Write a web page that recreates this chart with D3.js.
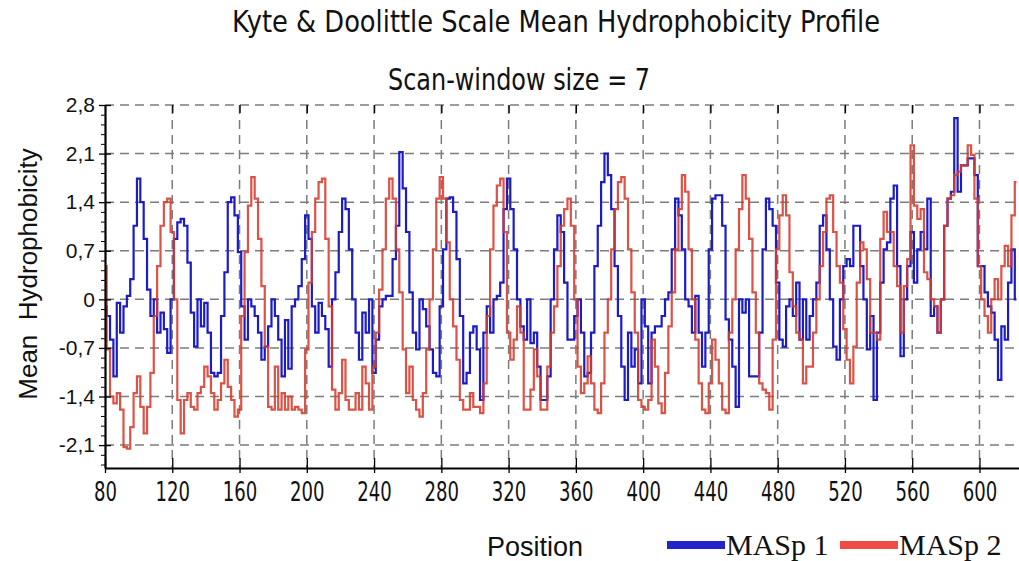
<!DOCTYPE html>
<html>
<head>
<meta charset="utf-8">
<script src="https://d3js.org/d3.v7.min.js"></script>
<style>
  body { margin: 0; background: #fff; }
  svg { display: block; }
</style>
</head>
<body>
<div id="chart"></div>
<script>
// hydrophobicity values, one every 2 residues from 80
const startPos = 80
const stepPos = 2
const masp1 = [
  -0.1, -0.24, -0.58, -1.11, -0.05, -0.48, -0.1, 0.05, 0.29, 1.06,
  1.74, 1.4, 0.87, 0.14, -0.24, 0, -0.48, -0.19, -0.43, -0.77,
  0, 0.87, 1.11, 1.16, 1.06, 0.53, -0.19, -0.68, 0, -0.39,
  -0.05, -0.48, -1.06, -1.11, -1.06, -0.24, 0.39, 1.4, 1.47, 1.21,
  0.68, -0.1, -0.58, 0, -0.1, -0.24, -0.48, -0.87, -0.68, -0.39,
  0, -0.24, -0.58, -1.11, -0.3, -1.0, -0.1, 0, 0.19, 0.58,
  1.21, 0.87, -0.1, -0.48, -0.05, -0.24, -0.43, -0.97, 0, 0.39,
  0.97, 1.45, 1.3, 0.72, 0, -0.48, -0.87, -0.19, -0.48, 0,
  -1.06, -0.58, -0.1, 0, 0.05, 0.05, 0.58, 1.06, 2.12, 1.6,
  0.97, 0.1, -0.48, -0.72, 0, -0.14, -0.39, -0.72, -1.06, -1.11,
  -0.1, 0.72, 1.45, 1.47, 1.26, 0.58, -0.24, -1.21, -1.06, -0.48,
  -0.39, -0.72, -1.45, -0.48, -0.1, -0.48, 0, 0.05, 0.24, 1.3,
  1.74, 1.3, 0.72, 0, -0.39, -0.58, 0, -0.63, -0.48, -0.97,
  -1.45, -1.45, -1.11, 0, 0.72, 1.21, 0.97, 0.24, -0.58, -0.58,
  -0.24, 0, -0.48, -1.11, -1.06, -0.48, 0.48, 1.06, 1.69, 2.1,
  1.79, 1.3, 0.48, -0.24, -0.97, -1.45, -0.48, -0.97, -0.72, -1.21,
  0, -0.39, -1.21, -0.48, -0.39, -0.39, -0.24, 0, 0.1, 0.72,
  1.45, 1.21, 0.72, 0, -0.1, -0.48, 0.05, -0.48, -0.97, -0.48,
  0.72, 1.45, 1.5, 1.5, 1.06, -0.29, -0.58, -0.97, -1.55, 0,
  -0.19, 0, -1.11, -1.11, -1.11, -0.48, 0.72, 1.45, 1.3, 1.06,
  0.24, -0.58, -0.68, -0.1, 0, -0.24, 0.24, -0.58, 0, -0.58,
  -0.24, 0, 0.24, 1.06, 1.21, 0.72, 0, -0.68, -0.87, 0,
  0.48, 0.58, 0.48, 1.06, 1.06, 0.48, 0, -0.72, -0.24, -1.45,
  -0.48, 0.24, 0.72, 0.82, 1.45, 1.64, 0.48, -0.82, 0, 0.48,
  0.97, 0.24, 0.72, 0.97, 0.72, 1.45, -0.24, -0.1, -0.48, 0,
  1.06, 1.45, 1.55, 2.61, 1.55, 1.93, 1.93, 2.03, 2.03, 1.79,
  0.48, 0.48, 0.1, -0.1, -0.19, -0.58, -1.16, -0.39, -0.58, 0.24,
  0.72, 0
]
const masp2 = [
  0.48, -0.72, -1.4, -1.5, -1.35, -1.59, -2.13, -2.15, -1.84, -1.35,
  -1.11, -1.55, -1.93, -1.55, -1.06, -0.24, 0.48, 1.06, 1.4, 1.45,
  0.97, 0, -1.45, -1.93, -1.45, -1.35, -1.55, -1.59, -1.35, -1.26,
  -0.97, -1.11, -1.35, -1.59, -1.45, -1.21, -0.87, -1.26, -1.45, -1.69,
  -1.59, -0.24, 0.68, 1.35, 1.76, 1.45, 0.87, 0.19, -0.68, -1.55,
  -1.59, -0.97, -1.59, -1.35, -1.59, -1.4, -1.59, -1.55, -1.59, -1.64,
  -0.72, 0.24, 0.97, 1.45, 1.69, 1.74, 0.87, -0.1, -1.3, -1.59,
  -1.35, -0.87, -1.45, -1.59, -1.59, -1.35, -1.59, -0.97, -1.21, -1.59,
  -0.97, -0.48, 0.14, 0.72, 1.45, 1.74, 1.45, 0.72, 0.1, -0.72,
  -1.35, -0.97, -1.45, -1.59, -1.69, -1.35, -0.72, 0, 0.72, 1.45,
  1.76, 1.45, 0.82, 0, -0.39, -0.87, -1.45, -1.59, -1.59, -1.35,
  -1.55, -1.55, -1.64, -1.21, -0.24, 0.72, 1.35, 1.64, 1.74, 0.97,
  -0.48, -0.87, -0.58, -0.1, -0.48, -1.59, -1.59, -1.3, -0.72, -1.11,
  -1.59, -1.59, -0.97, -0.48, -0.1, 0.48, 1.06, 1.3, 1.45, 1.06,
  0, -0.97, -1.35, -1.21, -0.82, -1.21, -1.59, -1.64, -1.21, -0.48,
  0, 0.72, 1.3, 1.69, 1.76, 1.45, 0.72, 0.1, -0.48, -1.45,
  -1.55, -1.59, -1.45, -0.58, -0.97, -1.5, -1.64, -1.06, -0.39, 0.1,
  0.72, 1.3, 1.79, 1.55, 0.72, 0, -0.58, -1.21, -1.59, -1.64,
  -1.21, -0.58, -0.87, -1.21, -1.59, -1.64, -0.48, 0, 0.72, 1.3,
  1.79, 1.45, 0.87, 0.1, -0.48, -1.21, -1.3, -1.35, -1.59, -0.58,
  0.72, 1.21, 1.5, 1.21, 0.39, -0.1, -0.48, -0.58, -1.21, -0.97,
  -0.97, -0.48, 0, 0.48, 0.97, 1.45, 1.5, 0.97, 0.48, 0.24,
  -0.43, -0.87, -1.21, -0.68, 0.24, 0.82, 0.72, 0.29, -0.48, -0.48,
  -0.58, 0.87, 1.26, 0.97, 0.97, 0.48, 0.19, -0.48, 0.19, 0.58,
  2.22, 1.35, 1.16, 1.3, 0.39, 0.29, 0, -0.1, -0.48, 0,
  1.06, 1.45, 1.5, 1.79, 1.84, 1.93, 1.93, 2.22, 2.08, 1.45,
  0.48, 0, -0.24, -0.48, 0, 0.29, 0, 0.48, 0.77, 0.48,
  1.21, 1.69
]
const seriesNames = ["MASp 1", "MASp 2"]
const seriesColors = ["#1c1cc4", "#d63a2c"]
const legendColors = ["#2323c8", "#f24a44"]
const xTicks = [80, 120, 160, 200, 240, 280, 320, 360, 400, 440, 480, 520, 560, 600]
const yTicks = [-2.1, -1.4, -0.7, 0, 0.7, 1.4, 2.1, 2.8]

const W = 1019, H = 561
const PLOT = { LEFT: 105, RIGHT: 1019, TOP: 105, BOTTOM: 468 }
const NARROW = "'Liberation Sans Narrow', 'DejaVu Sans Condensed', 'Liberation Sans', sans-serif"
const SANS = "'Liberation Sans', Arial, sans-serif"
const SERIF = "'Liberation Serif', 'Times New Roman', serif"

const svg = d3.select("#chart").append("svg")
    .attr("width", W)
    .attr("height", H)
svg.append("rect").attr("width", W).attr("height", H).attr("fill", "#fff")

// Scales
const x = d3.scaleLinear()
    .domain([80, 623.5])
    .range([PLOT.LEFT, PLOT.RIGHT])
const y = d3.scaleLinear()
    .domain([-2.43, 2.8])
    .range([PLOT.BOTTOM, PLOT.TOP])

// Grid
const grid = svg.append("g")
    .attr("stroke", "#7c7c7c")
    .attr("stroke-width", 1.5)
    .attr("stroke-dasharray", "9,6")
grid.selectAll(".hg").data(yTicks).enter().append("line")
    .attr("x1", PLOT.LEFT).attr("x2", PLOT.RIGHT)
    .attr("y1", d => y(d)).attr("y2", d => y(d))
grid.selectAll(".vg").data(xTicks.slice(1)).enter().append("line")
    .attr("x1", d => x(d)).attr("x2", d => x(d))
    .attr("y1", PLOT.TOP).attr("y2", PLOT.BOTTOM)

// Lines
svg.append("clipPath").attr("id", "clip")
  .append("rect")
    .attr("x", PLOT.LEFT).attr("y", PLOT.TOP)
    .attr("width", PLOT.RIGHT - PLOT.LEFT).attr("height", PLOT.BOTTOM - PLOT.TOP)

const line = d3.line()
    .x(d => x(d.pos))
    .y(d => y(d.v))
    .curve(d3.curveStep)

const series = [masp1, masp2].map((vals, i) => ({
  name: seriesNames[i],
  color: seriesColors[i],
  points: vals.map((v, j) => ({ pos: startPos + j * stepPos, v: v }))
}))

svg.append("g").attr("clip-path", "url(#clip)")
  .selectAll("path").data(series).enter().append("path")
    .attr("fill", "none")
    .attr("stroke", d => d.color)
    .attr("stroke-width", 2.2)
    .attr("stroke-opacity", (d, i) => i === 1 ? 0.88 : 1)
    .attr("d", d => line(d.points))

// Y axis
const yAxisCall = d3.axisLeft(y)
    .tickValues(yTicks)
    .tickSizeInner(6)
    .tickSizeOuter(0)
    .tickPadding(4)
    .tickFormat(d => d === 0 ? "0" : String(d).replace(".", ","))
const yAxis = svg.append("g")
    .attr("transform", `translate(${PLOT.LEFT}, 0)`)
    .call(yAxisCall)
yAxis.select(".domain").attr("stroke-width", 2.2)
yAxis.selectAll(".tick line").attr("x1", 6).attr("stroke-width", 1.3)
yAxis.selectAll(".tick text")
    .attr("font-family", SANS)
    .attr("font-size", 21)
    .attr("fill", "#111")

// minor ticks on the y axis
const minor = d3.range(-2.38, 2.8, 0.14).filter(v => yTicks.every(t => Math.abs(t - v) > 0.05))
svg.append("g")
    .attr("transform", `translate(${PLOT.LEFT}, 0)`)
    .call(d3.axisLeft(y).tickValues(minor).tickSize(4).tickFormat(""))
    .call(g => g.select(".domain").remove())

// X axis
const xAxisCall = d3.axisBottom(x)
    .tickValues(xTicks)
    .tickSizeInner(5)
    .tickSizeOuter(0)
    .tickPadding(10)
const xAxis = svg.append("g")
    .attr("transform", `translate(0, ${PLOT.BOTTOM})`)
    .call(xAxisCall)
xAxis.select(".domain").attr("stroke-width", 2.2)
xAxis.selectAll(".tick line").attr("y1", -10).attr("stroke-width", 1.3)
xAxis.selectAll(".tick text")
    .attr("font-family", NARROW)
    .attr("font-size", 26)
    .attr("textLength", d => String(d).length * 11.5)
    .attr("lengthAdjust", "spacingAndGlyphs")
    .attr("fill", "#111")

// small ticks hanging from the top border
svg.append("g")
    .attr("transform", `translate(0, ${PLOT.TOP})`)
    .call(d3.axisTop(x).tickValues(xTicks.slice(1)).tickSize(-8).tickFormat(""))
    .call(g => g.select(".domain").remove())
    .selectAll("line").attr("stroke-width", 1.3)

// Titles
svg.append("text")
    .attr("x", 556).attr("y", 32)
    .attr("text-anchor", "middle")
    .attr("font-family", NARROW)
    .attr("font-size", 31)
    .attr("textLength", 648)
    .attr("lengthAdjust", "spacingAndGlyphs")
    .attr("fill", "#111")
    .text("Kyte & Doolittle Scale Mean Hydrophobicity Profile")
svg.append("text")
    .attr("x", 519).attr("y", 90)
    .attr("text-anchor", "middle")
    .attr("font-family", NARROW)
    .attr("font-size", 30)
    .attr("textLength", 262)
    .attr("lengthAdjust", "spacingAndGlyphs")
    .attr("fill", "#111")
    .text("Scan-window size = 7")

// Axis labels
svg.append("text")
    .attr("transform", "translate(37, 274) rotate(-90)")
    .attr("text-anchor", "middle")
    .attr("font-family", SANS)
    .attr("font-size", 26)
    .attr("fill", "#111")
    .style("white-space", "pre")
    .text("Mean  Hydrophobicity")
svg.append("text")
    .attr("x", 535).attr("y", 556)
    .attr("text-anchor", "middle")
    .attr("font-family", SANS)
    .attr("font-size", 27)
    .attr("fill", "#111")
    .text("Position")

// Legend
const legendX = [667, 840]
const legend = svg.selectAll(".legend").data(seriesNames).enter().append("g")
    .attr("transform", (d, i) => `translate(${legendX[i]}, 545)`)
legend.append("rect")
    .attr("x", 0).attr("y", -4)
    .attr("width", 58).attr("height", 8)
    .attr("fill", (d, i) => legendColors[i])
legend.append("text")
    .attr("x", 59).attr("y", 10)
    .attr("font-family", SERIF)
    .attr("font-size", 30)
    .attr("fill", "#111")
    .text(d => d)
</script>
</body>
</html>
